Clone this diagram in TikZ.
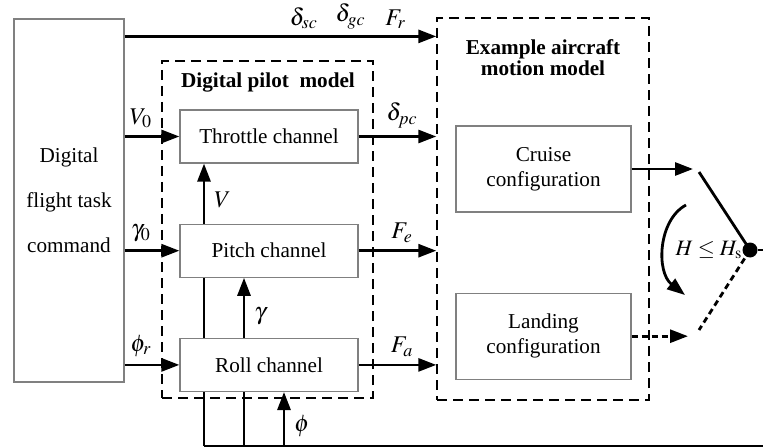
\documentclass[tikz,border=0pt]{standalone}
\usepackage{mathptmx}
\usepackage{fontspec}
\setmainfont{Liberation Serif}
\usetikzlibrary{arrows.meta,positioning,backgrounds}

\begin{document}
\begin{tikzpicture}[x=0.5pt,y=-0.5pt,>={Triangle[length=9pt,width=6.5pt]},node distance=30pt,
 font=\fontsize{10.6}{12.5}\selectfont,
 box/.style={draw=gray,line width=0.6pt,fill=white,minimum width=89pt,minimum height=26.5pt,align=center},
 grp/.style={draw,dash pattern=on 5pt off 3pt,line width=0.7pt},
 ttl/.style={font=\bfseries\fontsize{10.6}{10.5}\selectfont,align=center},
 lbl/.style={font=\fontsize{12}{14}\selectfont,inner sep=0.5pt},
 sig/.style={line width=1.4pt}]
 \useasboundingbox (0,0) rectangle (763,448);
 % command block
 \node[box,minimum width=55pt,minimum height=181.5pt,font=\fontsize{10.6}{22.5}\selectfont] (cmd) at (69,200.5) {Digital\\flight task\\command};
 % digital pilot
 \node[box] (thr) at (269,136.5) {Throttle channel};
 \node[box,below=of thr] (pit) {Pitch channel};
 \node[box,below=of pit] (roll) {Roll channel};
 \node[grp,minimum width=105.5pt,minimum height=168.5pt] (pilot) at (267.5,229.5) {};
 \node[ttl] (ptitle) at (268,82) {Digital pilot\ \ model};
 % aircraft model
 \node[grp,minimum width=106pt,minimum height=191pt] (air) at (543,209) {};
 \node[ttl] (atitle) at (543,57.5) {Example aircraft\\motion model};
 \node[box,minimum width=87.5pt,minimum height=43pt] (cru) at (543.5,169) {Cruise\\configuration};
 \node[box,minimum width=87.5pt,minimum height=43pt,below=40pt of cru] (land) {Landing\\configuration};
 % switch
 \coordinate (top) at ([yshift=-9pt]cmd.north east);
 \coordinate (cup) at (693,169);
 \coordinate (lup) at (688,334);
 \coordinate (swa) at (699,172);
 \coordinate (swb) at (699,330);
 \node[circle,fill,inner sep=0pt,minimum size=7.5pt] (dot) at (750,250) {};
 \coordinate (exit) at (763,250);
 \coordinate (arca) at (686,205);
 \coordinate (arcb) at (685,295);
 \coordinate (vb) at (204,446);
 \coordinate (gb) at (244,446);
 \coordinate (pb) at (284,446);
 \coordinate (edge) at (763,446);

 \draw[sig,->] (top) -- node[lbl,pos=0.575,above=2.5pt]{$\delta_{sc}$} node[lbl,pos=0.725,above=2.5pt]{$\delta_{gc}$} node[lbl,pos=0.87,above=2.5pt]{$F_r$} (top -| air.west);
 \draw[sig,->] (cmd.east |- thr) -- node[lbl,pos=0.3,above=3pt]{$V_0$} (thr);
 \draw[sig,->] (cmd.east |- pit) -- node[lbl,pos=0.3,above=3pt]{$\gamma_0$} (pit);
 \draw[sig,->] (cmd.east |- roll) -- node[lbl,pos=0.3,above=3pt]{$\phi_r$} (roll);
 \draw[sig,->] (thr) -- node[lbl,pos=0.56,above=3pt]{$\delta_{pc}$} (thr -| air.west);
 \draw[sig,->] (pit) -- node[lbl,pos=0.56,above=3pt]{$F_e$} (pit -| air.west);
 \draw[sig,->] (roll) -- node[lbl,pos=0.56,above=3pt]{$F_a$} (roll -| air.west);
 \draw[sig,->] (cru.east) -- (cru.east -| cup);
 \draw[sig,densely dashed,->] (land.east) -- (land.east -| lup);
 \draw[sig] (swa) -- (dot.center);
 \draw[sig,densely dashed] (dot.center) -- (swb);
 \draw[sig] (dot) -- (exit);
 \draw[sig,->] (arca) .. controls (658,220) and (656,272) .. (arcb);
 \node[lbl,font=\fontsize{11}{13}\selectfont] (cond) at (709,250) {$H \le H_{\mathrm{s}}$};

 \begin{scope}[on background layer]
 \draw[sig,->] (vb) -- node[lbl,pos=0.87,right=4pt]{$V$} (vb |- thr.south);
 \draw[sig,->] (gb) -- node[lbl,pos=0.77,right=4pt]{$\gamma$} (gb |- pit.south);
 \draw[sig,->] (pb) -- node[lbl,pos=0.36,right=4pt]{$\phi$} (pb |- roll.south);
 \draw[sig] (vb) -- (edge);
 \end{scope}
\end{tikzpicture}
\end{document}
